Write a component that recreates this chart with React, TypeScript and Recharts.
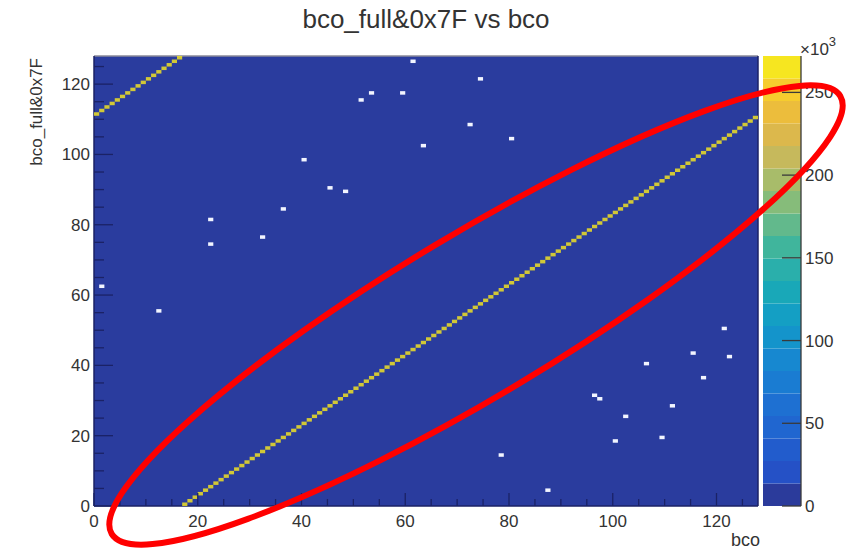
import React from 'react';
import {
  ScatterChart,
  BarChart,
  Scatter,
  Bar,
  XAxis,
  YAxis,
  CartesianGrid,
  ReferenceLine,
} from 'recharts';

// bins with the big peak (bco, bco_full&0x7F, counts in 10^3)
const DIAG_BCO = [
  0, 1, 2, 3, 4, 5, 6, 7, 8, 9, 10, 11, 12, 13, 14, 15,
  16, 17, 18, 19, 20, 21, 22, 23, 24, 25, 26, 27, 28, 29, 30, 31,
  32, 33, 34, 35, 36, 37, 38, 39, 40, 41, 42, 43, 44, 45, 46, 47,
  48, 49, 50, 51, 52, 53, 54, 55, 56, 57, 58, 59, 60, 61, 62, 63,
  64, 65, 66, 67, 68, 69, 70, 71, 72, 73, 74, 75, 76, 77, 78, 79,
  80, 81, 82, 83, 84, 85, 86, 87, 88, 89, 90, 91, 92, 93, 94, 95,
  96, 97, 98, 99, 100, 101, 102, 103, 104, 105, 106, 107, 108, 109, 110, 111,
  112, 113, 114, 115, 116, 117, 118, 119, 120, 121, 122, 123, 124, 125, 126, 127,
];
const DIAG_FULL = [
  111, 112, 113, 114, 115, 116, 117, 118, 119, 120, 121, 122, 123, 124, 125, 126,
  127, 0, 1, 2, 3, 4, 5, 6, 7, 8, 9, 10, 11, 12, 13, 14,
  15, 16, 17, 18, 19, 20, 21, 22, 23, 24, 25, 26, 27, 28, 29, 30,
  31, 32, 33, 34, 35, 36, 37, 38, 39, 40, 41, 42, 43, 44, 45, 46,
  47, 48, 49, 50, 51, 52, 53, 54, 55, 56, 57, 58, 59, 60, 61, 62,
  63, 64, 65, 66, 67, 68, 69, 70, 71, 72, 73, 74, 75, 76, 77, 78,
  79, 80, 81, 82, 83, 84, 85, 86, 87, 88, 89, 90, 91, 92, 93, 94,
  95, 96, 97, 98, 99, 100, 101, 102, 103, 104, 105, 106, 107, 108, 109, 110,
];
const DIAG_COUNT = [
  264, 266, 263, 267, 265, 262, 266, 264, 268, 263, 265, 267, 262, 266, 264, 265,
  263, 268, 266, 262, 265, 267, 264, 263, 266, 265, 268, 262, 264, 267, 263, 266,
  265, 263, 267, 264, 262, 266, 268, 265, 263, 264, 266, 267, 262, 265, 264, 263,
  267, 265, 262, 266, 264, 263, 268, 265, 266, 262, 264, 267, 265, 263, 266, 264,
  262, 267, 265, 264, 266, 263, 265, 268, 262, 264, 266, 265, 263, 267, 264, 266,
  265, 262, 264, 267, 263, 266, 265, 264, 268, 262, 265, 266, 264, 263, 267, 265,
  266, 264, 263, 265, 267, 262, 264, 266, 265, 268, 263, 264, 266, 262, 265, 267,
  264, 266, 265, 263, 262, 267, 264, 265, 266, 263, 268, 264, 265, 262, 266, 264,
];

// empty bins (drawn white)
const EMPTY_BCO = [1, 12, 22, 22, 32, 36, 40, 45, 48, 51, 53, 59, 61, 63, 72, 74, 80, 78, 87, 96, 97, 100, 102, 106, 109, 111, 115, 117, 121, 122];
const EMPTY_FULL = [62, 55, 81, 74, 76, 84, 98, 90, 89, 115, 117, 117, 126, 102, 108, 121, 104, 14, 4, 31, 30, 18, 25, 40, 19, 28, 43, 36, 50, 42];

const AXIS_TICKS = [0, 5, 10, 15, 20, 25, 30, 35, 40, 45, 50, 55, 60, 65, 70, 75, 80, 85, 90, 95, 100, 105, 110, 115, 120, 125];
const Z_TICKS = [0, 50, 100, 150, 200, 250];

// colour levels (20 contours up to the max, 10^3)
const Z_LEVELS = [0, 13.6, 27.2, 40.8, 54.4, 68, 81.6, 95.2, 108.8, 122.4, 136, 149.6, 163.2, 176.8, 190.4, 204, 217.6, 231.2, 244.8, 258.4, 272];
const PALETTE = [
  '#2b3b9b', '#2551c6', '#225ccc', '#2066d0', '#1e70d2', '#1a7cd2', '#1788d0', '#1494cb', '#149fc4', '#19a8b8',
  '#2aafab', '#40b59c', '#62b98c', '#86bc7a', '#a8bc6a', '#c6b95c', '#dcb84c', '#ecbd3c', '#f6cc2e', '#f6e620',
];

const NBINS = 128;
const W = 858;
const H = 551;
const PLOT_W = 664;
const PLOT_H = 450;
const CW = PLOT_W / NBINS;
const CH = PLOT_H / NBINS;
const FONT = '"Liberation Sans", Arial, Helvetica, sans-serif';
const TICK_COL = '#1b2266';
const TEXT_COL = '#333';

const colorFor = (z: number) => {
  let i = 0;
  while (i < PALETTE.length - 1 && z >= Z_LEVELS[i + 1]) i++;
  return PALETTE[i];
};

const diagData = DIAG_BCO.map((b, i) => ({ x: b + 0.5, y: DIAG_FULL[i] + 0.5, z: DIAG_COUNT[i] }));
const emptyData = EMPTY_BCO.map((b, i) => ({ x: b + 0.5, y: EMPTY_FULL[i] + 0.5 }));

// one stacked column for the palette bar
const barRow: Record<string, number | string> = { name: 'z' };
PALETTE.forEach((_, i) => {
  barRow['b' + i] = Z_LEVELS[i + 1] - Z_LEVELS[i];
});
const barData = [barRow];

const XTick = (props: any) => {
  const { x, y, payload } = props;
  const major = payload.value % 20 === 0;
  const ay = y - 6;
  return (
    <g>
      <line x1={x} y1={ay} x2={x} y2={ay - (major ? 13 : 7)} stroke={TICK_COL} strokeWidth={1.3} />
      {major && (
        <text x={x} y={ay + 21} textAnchor="middle" fontSize={17} fill={TEXT_COL} fontFamily={FONT}>
          {payload.value}
        </text>
      )}
    </g>
  );
};

const YTick = (props: any) => {
  const { x, y, payload } = props;
  const major = payload.value % 20 === 0;
  const ax = x + 4;
  return (
    <g>
      <line x1={ax} y1={y} x2={ax + (major ? 19 : 10)} y2={y} stroke={TICK_COL} strokeWidth={1.3} />
      {major && (
        <text x={x} y={y + 6} textAnchor="end" fontSize={17} fill={TEXT_COL} fontFamily={FONT}>
          {payload.value}
        </text>
      )}
    </g>
  );
};

const ZTick = (props: any) => {
  const { x, y, payload } = props;
  const ax = x - 4;
  return (
    <g>
      <line x1={ax} y1={y} x2={ax - 19} y2={y} stroke="#3a3a3a" strokeWidth={1.3} />
      <text x={x} y={y + 6} textAnchor="start" fontSize={17} fill={TEXT_COL} fontFamily={FONT}>
        {payload.value}
      </text>
    </g>
  );
};

export default function App() {
  return (
    <div style={{ position: 'absolute', left: 0, top: 0, width: W, height: H, background: '#fff', fontFamily: FONT }}>
      <ScatterChart width={W} height={H} margin={{ top: 56, right: 100, bottom: 0, left: 10 }}>
        <CartesianGrid horizontal={false} vertical={false} fill="#2a3c9e" fillOpacity={1} />
        <XAxis
          type="number"
          dataKey="x"
          domain={[0, 128]}
          ticks={AXIS_TICKS}
          interval={0}
          height={45}
          tickSize={0}
          tickMargin={6}
          tick={<XTick />}
          axisLine={{ stroke: TICK_COL, strokeWidth: 1.5 }}
          allowDataOverflow
        />
        <YAxis
          type="number"
          dataKey="y"
          domain={[0, 128]}
          ticks={AXIS_TICKS}
          interval={0}
          width={84}
          tickSize={0}
          tickMargin={4}
          tick={<YTick />}
          axisLine={{ stroke: TICK_COL, strokeWidth: 1.5 }}
          allowDataOverflow
        />
        <ReferenceLine y={128} stroke="#8a8a9a" strokeWidth={1.5} />
        <ReferenceLine x={128} stroke={TICK_COL} strokeWidth={1.5} />
        <Scatter
          data={diagData}
          isAnimationActive={false}
          shape={(p: any) => (
            <rect
              x={p.cx - CW / 2}
              y={p.cy - CH / 2}
              width={CW}
              height={CH}
              fill={colorFor(p.payload.z)}
              fillOpacity={0.82}
            />
          )}
        />
        <Scatter
          data={emptyData}
          isAnimationActive={false}
          shape={(p: any) => (
            <rect x={p.cx - CW / 2} y={p.cy - CH / 2} width={CW} height={CH} fill="#f2f5ff" />
          )}
        />
      </ScatterChart>

      <div style={{ position: 'absolute', left: 763, top: 0 }}>
        <BarChart
          width={95}
          height={H}
          data={barData}
          margin={{ top: 56, right: 0, bottom: 45, left: 0 }}
          barCategoryGap={0}
        >
          <XAxis dataKey="name" hide />
          <YAxis
            type="number"
            orientation="right"
            domain={[0, 272]}
            ticks={Z_TICKS}
            interval={0}
            width={57}
            tickSize={0}
            tickMargin={4}
            tick={<ZTick />}
            axisLine={{ stroke: '#3a3a3a', strokeWidth: 1.3 }}
            allowDataOverflow
          />
          {PALETTE.map((c, i) => (
            <Bar key={i} dataKey={'b' + i} stackId="z" fill={c} isAnimationActive={false} />
          ))}
        </BarChart>
      </div>

      <svg width={W} height={H} style={{ position: 'absolute', left: 0, top: 0, pointerEvents: 'none' }}>
        <text x={426} y={28} textAnchor="middle" fontSize={26} fill={TEXT_COL} fontFamily={FONT}>
          bco_full&amp;0x7F vs bco
        </text>
        <text transform="translate(42,58) rotate(-90)" textAnchor="end" fontSize={17} fill={TEXT_COL} fontFamily={FONT}>
          bco_full&amp;0x7F
        </text>
        <text x={760} y={546} textAnchor="end" fontSize={18} fill={TEXT_COL} fontFamily={FONT}>
          bco
        </text>
        <text x={800} y={55} fontSize={17} fill={TEXT_COL} fontFamily={FONT}>
          ×10<tspan dy={-9} fontSize={13}>3</tspan>
        </text>
        <ellipse
          cx={476}
          cy={315}
          rx={425}
          ry={81}
          transform="rotate(-31 476 315)"
          fill="none"
          stroke="#ff0000"
          strokeWidth={6}
        />
      </svg>
    </div>
  );
}
